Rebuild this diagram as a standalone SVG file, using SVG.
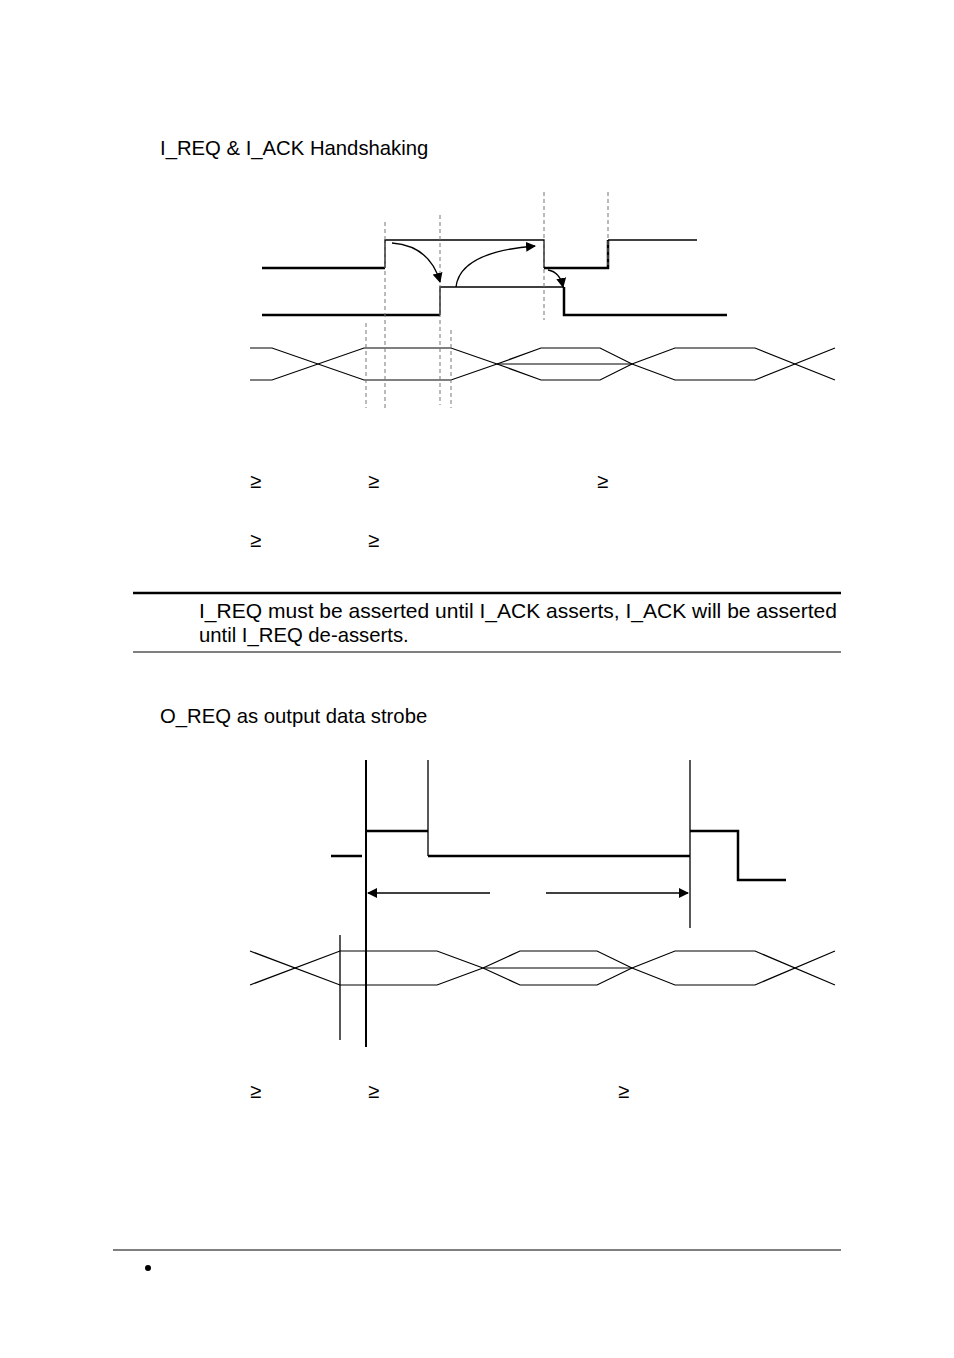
<svg xmlns="http://www.w3.org/2000/svg" width="954" height="1358" viewBox="0 0 954 1358">
<style>
text{font-family:"Liberation Sans",Arial,sans-serif;font-size:20.3px;fill:#000}
.s{fill:none;stroke:#000;stroke-width:1.3}
.t{fill:none;stroke:#000;stroke-width:2.5}
.d{fill:none;stroke:#777;stroke-width:1;stroke-dasharray:4,3}
.b{fill:none;stroke:#000;stroke-width:1.2}
</style>
<defs><marker id="a" markerWidth="10" markerHeight="10" refX="9" refY="5" orient="auto" markerUnits="userSpaceOnUse"><path d="M0,0L10,5L0,10z" fill="#000"/></marker></defs>
<rect width="954" height="1358" fill="#fff"/>
<text x="160" y="155">I_REQ &amp; I_ACK Handshaking</text>
<g id="sig1">
<path class="t" d="M262,268H385"/><path class="s" d="M385,268V240H544V268"/><path class="t" d="M544,268H608V240"/><path class="s" d="M608,240H697"/>
<path class="t" d="M262,315H440"/><path class="s" d="M440,315V287H564"/><path class="t" d="M564,287V315H727"/>
</g>
<g id="bus1" class="b">
<path d="M250,348H272L364,380H451L497,364L541,348H600L632,364L675,380H755L835,348"/>
<path d="M250,380H272L364,348H451L497,364L541,380H600L632,364L675,348H755L835,380"/>
<path d="M497,364H632"/>
</g>
<g id="dash1" class="d">
<path d="M366,323V408M385,222V408M440,215V405M451,330V408M544,192V320M608,192V265"/>
</g>
<g id="connectors">
<path class="s" d="M392,243Q430,246 440,282" marker-end="url(#a)"/>
<path class="s" d="M456,287Q460,252 535,246" marker-end="url(#a)"/>
<path class="s" d="M548,270Q560,272 563,287" marker-end="url(#a)"/>
<path class="s" d="M490,893H368" marker-end="url(#a)"/>
<path class="s" d="M546,893H688" marker-end="url(#a)"/>
</g>
<g id="ge">
<text x="250" y="488">≥</text><text x="368" y="488">≥</text><text x="597" y="488">≥</text>
<text x="250" y="547">≥</text><text x="368" y="547">≥</text>
<text x="250" y="1098">≥</text><text x="368" y="1098">≥</text><text x="618" y="1098">≥</text>
</g>
<g id="note">
<path d="M133,593H841" stroke="#000" stroke-width="2.5"/>
<path d="M133,652H841" stroke="#000" stroke-width="1"/>
<text x="199" y="618" textLength="638" lengthAdjust="spacingAndGlyphs">I_REQ must be asserted until I_ACK asserts, I_ACK will be asserted</text>
<text x="199" y="642">until I_REQ de-asserts.</text>
</g>
<text x="160" y="723">O_REQ as output data strobe</text>
<g id="sig2">
<path d="M366,760V1047" stroke="#000" stroke-width="2"/>
<path class="s" d="M428,760V856M690,760V928M340,935V1040"/>
<path class="t" d="M331,856H362M366,831H428M428,856H690M690,831H738V880H786"/>
</g>
<g id="bus2" class="b">
<path d="M250,951L340,985H437L483,968L520,951H597L632,968L675,985H755L835,951"/>
<path d="M250,985L340,951H437L483,968L520,985H597L632,968L675,951H755L835,985"/>
<path d="M483,968H632"/>
</g>
<path d="M113,1250H841" stroke="#000" stroke-width="1"/>
<circle cx="148" cy="1268" r="3" fill="#000"/>
</svg>
